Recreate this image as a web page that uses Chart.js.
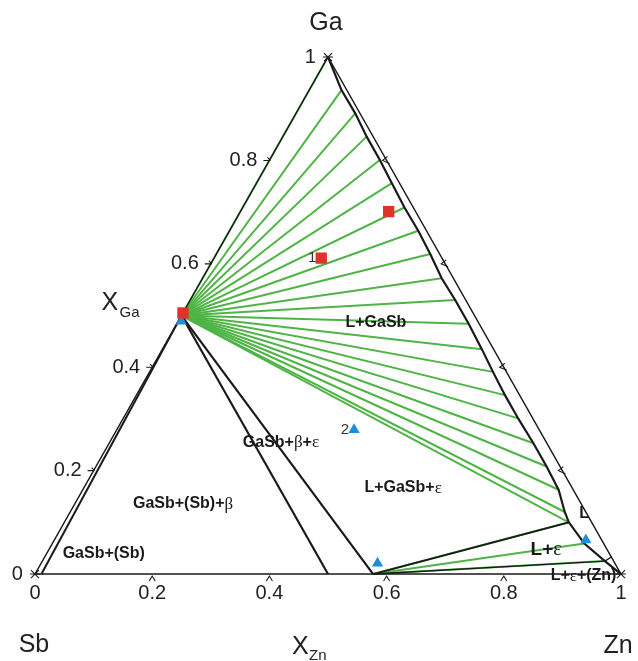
<!DOCTYPE html>
<html><head><meta charset="utf-8">
<script src="https://cdn.jsdelivr.net/npm/chart.js@4/dist/chart.umd.min.js"></script>
<style>html,body{margin:0;padding:0;background:#fff;}canvas{display:block;}</style>
</head><body>
<canvas id="c" width="638" height="661"></canvas>
<script>
// ---- data (ternary compositions: X_Zn, X_Ga) ----
const liqZn = [0, 0.055, 0.101, 0.143, 0.188, 0.231, 0.276, 0.322, 0.365, 0.408, 0.452, 0.498, 0.545, 0.586, 0.629, 0.674, 0.724, 0.769, 0.812, 0.844, 0.861];
const liqGa = [1, 0.936, 0.891, 0.846, 0.801, 0.756, 0.709, 0.664, 0.619, 0.572, 0.530, 0.484, 0.435, 0.391, 0.346, 0.301, 0.253, 0.208, 0.163, 0.120, 0.100];
const liqTailZn = [0.908, 0.960, 1.0];
const liqTailGa = [0.059, 0.025, 0.0];
const gaSbPt = [0.0, 0.5];
const sbSSPt = [0.011, 0.0];
const betaPt = [0.5, 0.0];
const epsPt = [0.577, 0.0];
const liqEdgePt = [0.967, 0.033];
const epsTieZn = [0.861, 0.908, 0.960];
const epsTieGa = [0.100, 0.059, 0.025];
const redZn = [0.0, 0.183, 0.253];
const redGa = [0.505, 0.611, 0.701];
const blueZn = [0.005, 0.405, 0.574, 0.907];
const blueGa = [0.489, 0.279, 0.021, 0.066];
const sampleLabels = ['', '1', '', '', '2', '', ''];
const tickVals = [0, 0.2, 0.4, 0.6, 0.8, 1];
const tickLabels = ['0', '0.2', '0.4', '0.6', '0.8', '1'];
const regionLabels = [
  {t: [['L+GaSb','b']], zn: 0.339, ga: 0.4855, size: 16},
  {t: [['GaSb+(Sb)','b']], zn: 0.098, ga: 0.0387, size: 16},
  {t: [['GaSb+(Sb)+','b'], ['β','g']], zn: 0.185, ga: 0.1354, size: 16},
  {t: [['GaSb+','b'], ['β','g'], ['+','b'], ['ε','g']], zn: 0.293, ga: 0.2534, size: 16},
  {t: [['L+GaSb+','b'], ['ε','g']], zn: 0.545, ga: 0.1663, size: 16},
  {t: [['L+','b'], ['ε','g']], zn: 0.849, ga: 0.0464, size: 19},
  {t: [['L+','b'], ['ε','g'], ['+(Zn)','b']], zn: 0.938, ga: -0.0039, size: 16},
  {t: [['L','b']], zn: 0.879, ga: 0.116, size: 16}
];

const P = (zn, ga) => ({x: zn + ga / 2, y: ga});
const GREEN = '#4fb446', BLACK = '#1a1a1a';
const datasets = [];
function seg(pts, color, width, order) {
  datasets.push({type: 'scatter', data: pts, showLine: true, borderColor: color, borderWidth: width,
    pointRadius: 0, pointHoverRadius: 0, fill: false, tension: 0, order: order});
}
// markers (top)
datasets.push({type: 'scatter', data: redZn.map((z, i) => P(z, redGa[i])), pointStyle: 'rect', pointRadius: 8,
  backgroundColor: '#e0312a', borderWidth: 0, order: 0});
datasets.push({type: 'scatter', data: blueZn.map((z, i) => P(z, blueGa[i])), pointStyle: 'triangle', pointRadius: 6.5,
  backgroundColor: '#1d8fd6', borderWidth: 0, order: 0});
// green tie lines from GaSb
liqZn.forEach((z, i) => seg([P(gaSbPt[0], gaSbPt[1]), P(z, liqGa[i])], GREEN, 2, 3));
// green tie lines from epsilon
epsTieZn.forEach((z, i) => seg([P(epsPt[0], epsPt[1]), P(z, epsTieGa[i])], GREEN, 2, 3));
// outer triangle
seg([P(0, 0), P(1, 0), P(0, 1), P(0, 0)], BLACK, 1.4, 2);
// liquidus
seg(liqZn.concat(liqTailZn).map((z, i) => P(z, liqGa.concat(liqTailGa)[i])), BLACK, 2.2, 1);
seg([P(liqTailZn[1], liqTailGa[1]), P(liqEdgePt[0], liqEdgePt[1])], BLACK, 1.4, 1);
// phase boundaries
seg([P(gaSbPt[0], gaSbPt[1]), P(sbSSPt[0], sbSSPt[1])], BLACK, 2, 1);
seg([P(gaSbPt[0], gaSbPt[1]), P(betaPt[0], betaPt[1])], BLACK, 2.2, 1);
seg([P(gaSbPt[0], gaSbPt[1]), P(epsPt[0], epsPt[1])], BLACK, 2.2, 1);
seg([P(epsPt[0], epsPt[1]), P(epsTieZn[0], epsTieGa[0])], BLACK, 1.8, 1);
seg([P(epsPt[0], epsPt[1]), P(epsTieZn[2], epsTieGa[2])], BLACK, 1.4, 1);

function drawRich(ctx, parts, x, y, size, align) {
  const fonts = {b: 'bold ' + size + 'px "Liberation Sans", Arial, sans-serif',
                 g: (size + 1) + 'px "Liberation Serif", "DejaVu Serif", serif',
                 r: size + 'px "Liberation Sans", Arial, sans-serif'};
  let w = 0;
  parts.forEach(p => { ctx.font = fonts[p[1]]; w += ctx.measureText(p[0]).width; });
  let cx = align === 'right' ? x - w : (align === 'left' ? x : x - w / 2);
  ctx.textAlign = 'left'; ctx.textBaseline = 'middle';
  parts.forEach(p => { ctx.font = fonts[p[1]]; ctx.fillText(p[0], cx, y); cx += ctx.measureText(p[0]).width; });
}

const textPlugin = {
  id: 'ternaryText',
  afterDatasetsDraw(chart) {
    const ctx = chart.ctx, xs = chart.scales.x, ys = chart.scales.y;
    const px = (zn, ga) => [xs.getPixelForValue(zn + ga / 2), ys.getPixelForValue(ga)];
    ctx.save();
    ctx.strokeStyle = BLACK; ctx.lineWidth = 1.1; ctx.fillStyle = '#222';
    // ticks
    tickVals.forEach((v, i) => {
      const sans = '20px "Liberation Sans", Arial, sans-serif';
      const [bx, by] = px(v, 0);
      if (v > 0 && v < 1) {
        ctx.beginPath(); ctx.moveTo(bx - 3, by + 7); ctx.lineTo(bx, by + 2); ctx.lineTo(bx + 3, by + 7); ctx.stroke();
      }
      ctx.font = sans; ctx.textAlign = 'center'; ctx.textBaseline = 'middle';
      ctx.fillText(tickLabels[i], bx, by + 19);
      const [lx, ly] = px(0, v);
      if (v > 0 && v < 1) {
        ctx.beginPath(); ctx.moveTo(lx - 6, ly); ctx.lineTo(lx + 1, ly); ctx.moveTo(lx - 2, ly - 3); ctx.lineTo(lx + 1, ly); ctx.stroke();
        const [rx, ry] = px(1 - v, v);
        ctx.beginPath(); ctx.moveTo(rx + 1, ry - 4); ctx.lineTo(rx - 4, ry); ctx.lineTo(rx + 3, ry + 3); ctx.stroke();
      }
      ctx.textAlign = 'right';
      ctx.fillText(tickLabels[i], lx - 12, ly);
    });
    // corner stars
    [[0, 0], [1, 0], [0, 1]].forEach(c => {
      const [cx, cy] = px(c[0], c[1]);
      ctx.beginPath();
      ctx.moveTo(cx - 5, cy); ctx.lineTo(cx + 5, cy);
      ctx.moveTo(cx - 4, cy - 4); ctx.lineTo(cx + 4, cy + 4);
      ctx.moveTo(cx + 4, cy - 4); ctx.lineTo(cx - 4, cy + 4);
      ctx.stroke();
    });
    // vertex names and axis titles
    ctx.fillStyle = '#222';
    ctx.font = '25px "Liberation Sans", Arial, sans-serif'; ctx.textAlign = 'center'; ctx.textBaseline = 'middle';
    let p = px(0, 1); ctx.fillText('Ga', p[0] - 2, p[1] - 34);
    p = px(0, 0); ctx.fillText('Sb', p[0] - 1, p[1] + 71);
    p = px(1, 0); ctx.fillText('Zn', p[0] - 3, p[1] + 72);
    p = px(0.5, 0);
    ctx.textAlign = 'left';
    ctx.fillText('X', p[0] - 36, p[1] + 73);
    ctx.font = '15px "Liberation Sans", Arial, sans-serif';
    ctx.fillText('Zn', p[0] - 19, p[1] + 82);
    p = px(0, 0.5);
    ctx.font = '25px "Liberation Sans", Arial, sans-serif';
    ctx.fillText('X', p[0] - 80, p[1] - 12);
    ctx.font = '15px "Liberation Sans", Arial, sans-serif';
    ctx.fillText('Ga', p[0] - 62, p[1] - 3);
    // region labels
    ctx.fillStyle = '#1a1a1a';
    regionLabels.forEach(l => { const q = px(l.zn, l.ga); drawRich(ctx, l.t, q[0], q[1], l.size, 'center'); });
    // sample numbers
    ctx.fillStyle = '#333';
    ctx.font = '15px "Liberation Sans", Arial, sans-serif'; ctx.textAlign = 'right'; ctx.textBaseline = 'middle';
    const allZn = redZn.concat(blueZn), allGa = redGa.concat(blueGa);
    sampleLabels.forEach((s, i) => { if (s) { const q = px(allZn[i], allGa[i]); ctx.fillText(s, q[0] - 5, q[1]); } });
    ctx.restore();
  }
};

new Chart(document.getElementById('c'), {
  data: {datasets: datasets},
  options: {
    responsive: false, maintainAspectRatio: false, devicePixelRatio: 1, animation: false,
    layout: {padding: 0, autoPadding: false},
    events: [],
    plugins: {legend: {display: false}, tooltip: {enabled: false}},
    scales: {
      x: {type: 'linear', display: false, min: -0.0597, max: 1.029},
      y: {type: 'linear', display: false, min: -0.1682, max: 1.1103}
    }
  },
  plugins: [textPlugin]
});
</script>
</body></html>
